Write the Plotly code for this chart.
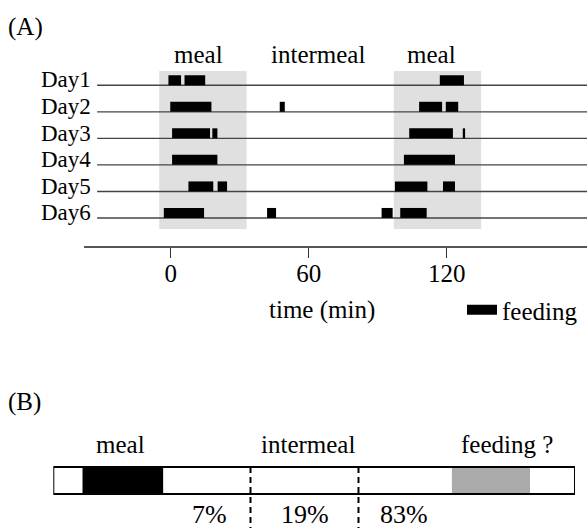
import plotly.graph_objects as go

W, H = 587, 528
FONT = "Liberation Serif"

# ---------------- data: panel (A) ----------------
days = ["Day1", "Day2", "Day3", "Day4", "Day5", "Day6"]
# feeding bouts (start, end) in minutes, one list per day
day1_bouts = [(-1, 4.5), (6, 15), (117, 127.5)]
day2_bouts = [(-0.2, 17.7), (47.4, 49.6), (108, 118), (119.6, 125)]
day3_bouts = [(0.6, 17.1), (18.1, 20.3), (103.7, 122.7), (127, 128)]
day4_bouts = [(0.6, 20.3), (101.4, 123.6)]
day5_bouts = [(7.7, 18.5), (20.4, 24.5), (97.5, 111.6), (118.4, 123.6)]
day6_bouts = [(-3, 14.5), (41.9, 45.8), (91.7, 96.5), (99.8, 111.3)]
all_bouts = [day1_bouts, day2_bouts, day3_bouts, day4_bouts, day5_bouts, day6_bouts]

meal_windows = [(-5, 33), (97, 135)]
time_ticks = [0, 60, 120]
phase_labels_a = ["meal", "intermeal", "meal"]

# ---------------- data: panel (B) ----------------
segment_bounds = [0, 5.6, 21.1, 76.4, 91.4, 100]
segment_colors = ["white", "black", "white", "#aaaaaa", "white"]
divider_pos = [37.8, 58.5]
phase_labels_b = ["meal", "intermeal", "feeding ?"]
pct_labels = ["7%", "19%", "83%"]

# ---------------- layout helpers ----------------
line_start = -32
x_range = [-37.7, 181.0]
row_y = {d: len(days) - i for i, d in enumerate(days)}  # Day1 -> 6 ... Day6 -> 1
bar_h = 0.19  # half height of feeding bar in row units

fig = go.Figure()

# baselines
bx, by = [], []
for d in days:
    bx += [line_start, x_range[1], None]
    by += [row_y[d], row_y[d], None]
fig.add_trace(go.Scatter(x=bx, y=by, mode="lines", line=dict(color="#444444", width=1.4),
                         showlegend=False, hoverinfo="skip", xaxis="x", yaxis="y"))

# feeding bouts
fx, fy = [], []
for d, bouts in zip(days, all_bouts):
    for s, e in bouts:
        fx += [s, e, None]
        fy += [row_y[d] + bar_h, row_y[d] + bar_h, None]
fig.add_trace(go.Scatter(x=fx, y=fy, mode="lines", line=dict(color="black", width=10),
                         name="feeding", showlegend=True, xaxis="x", yaxis="y"))

# panel B segments
starts = segment_bounds[:-1]
lengths = [b - a for a, b in zip(segment_bounds[:-1], segment_bounds[1:])]
fig.add_trace(go.Bar(orientation="h", y=[0.5] * len(starts), x=lengths, base=starts, width=1,
                     marker=dict(color=segment_colors, line=dict(width=0)),
                     showlegend=False, hoverinfo="skip", xaxis="x2", yaxis="y2"))

# dividers
for p in divider_pos:
    fig.add_trace(go.Scatter(x=[p, p], y=[1, -1.3], mode="lines",
                             line=dict(color="black", width=2, dash="6px,4px"),
                             showlegend=False, hoverinfo="skip", xaxis="x2", yaxis="y2"))

shapes = []
for a, b in meal_windows:
    shapes.append(dict(type="rect", xref="x", yref="y", x0=a, x1=b, y0=0.586, y1=6.54,
                       fillcolor="#e0e0e0", line=dict(width=0), layer="below"))
shapes.append(dict(type="rect", xref="x2", yref="y2", x0=0, x1=100, y0=0, y1=1,
                   fillcolor="rgba(0,0,0,0)", line=dict(color="black", width=2), layer="above"))

def px_x(p):
    return p / W

def px_y(p):
    return 1 - p / H

def label(text, xp, yp, size=25):
    return dict(text=text, x=px_x(xp), y=px_y(yp), xref="paper", yref="paper",
                xanchor="center", yanchor="middle", showarrow=False,
                font=dict(size=size, family=FONT, color="black"))

ann = []
ann.append(label("(A)", 25, 27))
for txt, xp in zip(phase_labels_a, [198, 318, 431]):
    ann.append(label(txt, xp, 54))
for d in days:
    ann.append(dict(text=d, x=line_start, y=row_y[d] + 0.2, xref="x", yref="y",
                    xanchor="right", yanchor="middle", xshift=-4, showarrow=False,
                    font=dict(size=23, family=FONT, color="black")))
ann.append(label("time (min)", 322, 310))
ann.append(label("(B)", 24, 402))
for txt, xp in zip(phase_labels_b, [120, 308, 507]):
    ann.append(label(txt, xp, 444))
for txt, xp in zip(pct_labels, [209, 305, 404]):
    ann.append(label(txt, xp, 514, size=26))

fig.update_layout(
    width=W, height=H, autosize=False,
    margin=dict(l=0, r=0, t=0, b=0),
    paper_bgcolor="white", plot_bgcolor="white",
    shapes=shapes, annotations=ann,
    xaxis=dict(domain=[84 / W, 1], range=x_range, showgrid=False, zeroline=False,
               showline=True, linecolor="#555555", linewidth=1.5,
               ticks="outside", ticklen=10, tickcolor="#333333", tickwidth=1,
               tickvals=time_ticks, ticktext=[str(t) for t in time_ticks],
               ticklabelstandoff=-6,
               tickfont=dict(size=25, family=FONT, color="black"), anchor="y"),
    yaxis=dict(domain=[1 - 246 / H, 1 - 60 / H], range=[-0.055, 6.953], visible=False,
               anchor="x"),
    xaxis2=dict(domain=[53.3 / W, 575 / W], range=[0, 100], visible=False, anchor="y2"),
    yaxis2=dict(domain=[0, 1 - 430 / H], range=[-1.259, 2.370], visible=False, anchor="x2"),
    legend=dict(x=px_x(462), y=px_y(310), xanchor="left", yanchor="middle",
                bgcolor="rgba(0,0,0,0)", font=dict(size=25, family=FONT, color="black"),
                itemsizing="trace"),
    showlegend=True,
)

fig.write_html("out.html", config={"displayModeBar": False},
               post_script="document.body.style.margin='0';")
